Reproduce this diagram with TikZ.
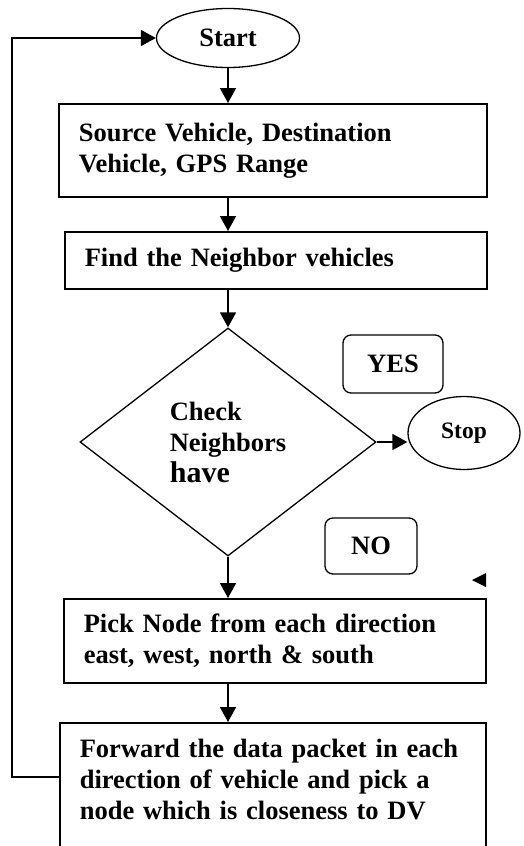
\documentclass[tikz,border=0pt]{standalone}
\usepackage{fontspec}
\setmainfont{Liberation Serif}
\usetikzlibrary{arrows.meta,positioning,shapes.geometric}

\begin{document}
\begin{tikzpicture}[
  x=1pt,y=-1pt,
  font=\fontsize{26.5}{31}\selectfont\bfseries,
  line width=1.6pt,
  box/.style={draw,inner xsep=20pt,inner ysep=4pt,align=left,anchor=north west},
  term/.style={draw,ellipse,inner sep=0pt,line width=1.3pt},
  tag/.style={draw,rounded corners=8pt,inner sep=0pt,line width=1.3pt},
  arr/.style={-{Triangle[length=15pt,width=16pt]}}
]
\useasboundingbox (0,0) rectangle (524,846);
\node[term,minimum width=143pt,minimum height=59pt] (start) at (228,38) {Start};
\node[box,text width=388pt,minimum height=93pt] (src) at (58,103) {Source Vehicle, Destination\\Vehicle, GPS Range};
\node[box,text width=382pt,minimum height=57pt] (find) at (64,231) {Find the Neighbor vehicles};
\node[draw,diamond,inner sep=0pt,line width=1.3pt,minimum width=296pt,minimum height=228pt,align=left] (chk) at (228,442)
  {Check\\Neighbors\\{\fontsize{30}{33}\selectfont have}};
\node[term,minimum width=112pt,minimum height=73pt,font=\fontsize{23.5}{28}\selectfont\bfseries] (stop) at (464,433) {Stop};
\node[tag,minimum width=100pt,minimum height=58pt] (yes) at (393,364) {YES};
\node[tag,minimum width=92pt,minimum height=56pt] (no) at (371,546) {NO};
\node[box,text width=382pt,minimum height=84pt] (pick) at (63,598) {Pick Node from each direction\\east, west, north \& south};
\node[box,text width=386pt,inner ysep=16pt] (fwd) at (59,722)
  {Forward the data packet in each\\direction of vehicle and pick a\\node which is closeness to DV\rule[-70pt]{0pt}{70pt}};
% stray arrow head
\fill (472,580) -- (486,573) -- (486,587) -- cycle;
\draw[arr] (start.south) -- (start.south |- src.north);
\draw[arr] (src.south -| chk) -- (find.north -| chk);
\draw[arr] (find.south -| chk) -- (chk.north);
\draw[arr] (chk.east) -- (chk.east -| stop.west);
\draw[arr] (chk.south) -- (pick.north -| chk);
\draw[arr] (pick.south -| chk) -- (fwd.north -| chk);
\draw[arr] ([yshift=-55pt]fwd.north west) -- ++(-47,0) |- (start.west);
\end{tikzpicture}
\end{document}
